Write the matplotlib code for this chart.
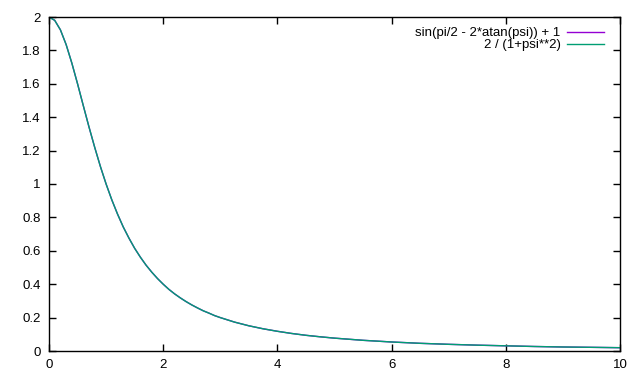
import matplotlib
matplotlib.use("Agg")
import matplotlib.pyplot as plt

psi = [0.0, 0.1, 0.2, 0.3, 0.4, 0.5, 0.6, 0.7, 0.8, 0.9, 1.0, 1.1, 1.2, 1.3, 1.4, 1.5,
       1.6, 1.7, 1.8, 1.9, 2.0, 2.1, 2.2, 2.3, 2.4, 2.5, 2.6, 2.7, 2.8, 2.9, 3.0,
       3.25, 3.5, 3.75, 4.0, 4.25, 4.5, 4.75, 5.0, 5.5, 6.0, 6.5, 7.0, 7.5, 8.0,
       8.5, 9.0, 9.5, 10.0]
series_sin = [2.0, 1.98, 1.923, 1.835, 1.724, 1.6, 1.47, 1.342, 1.22, 1.105, 1.0, 0.905,
              0.82, 0.743, 0.676, 0.615, 0.562, 0.514, 0.472, 0.434, 0.4, 0.369, 0.342,
              0.318, 0.296, 0.276, 0.258, 0.241, 0.227, 0.212, 0.2, 0.173, 0.151, 0.133,
              0.118, 0.105, 0.094, 0.085, 0.077, 0.064, 0.054, 0.046, 0.04, 0.035, 0.031,
              0.027, 0.024, 0.022, 0.0198]
series_ratio = list(series_sin)
labels = ["sin(pi/2 - 2*atan(psi)) + 1", "2 / (1+psi**2)"]
xticks = [0, 2, 4, 6, 8, 10]
yticks = [0, 0.2, 0.4, 0.6, 0.8, 1, 1.2, 1.4, 1.6, 1.8, 2]
ytick_labels = ["0", "0.2", "0.4", "0.6", "0.8", "1", "1.2", "1.4", "1.6", "1.8", "2"]

plt.rcParams['font.family'] = ['Liberation Sans', 'DejaVu Sans']
fig = plt.figure(figsize=(6.4, 3.84), dpi=100)
ax = fig.add_axes([49/640, 1 - 351/384, (620 - 49)/640, (351 - 17)/384])
ax.plot(psi, series_sin, color='#9400d3', lw=1.0, label=labels[0])
ax.plot(psi, series_ratio, color='#009e73', lw=1.0, label=labels[1])
ax.set_xlim(0, 10)
ax.set_ylim(0, 2)
ax.set_xticks(xticks)
ax.set_xticklabels([str(t) for t in xticks])
ax.set_yticks(yticks)
ax.set_yticklabels(ytick_labels)
ax.tick_params(direction='in', length=5, width=1, labelsize=9.5, top=True, right=True,
               colors='black', pad=6)
for s in ax.spines.values():
    s.set_linewidth(1)
    s.set_color('black')
leg = ax.legend(loc='upper right', frameon=False, fontsize=9.5, markerfirst=False,
                handlelength=2.8, handletextpad=0.5, borderaxespad=0, borderpad=0,
                labelspacing=0.0, bbox_to_anchor=((604 - 49)/571, (351 - 27)/334))
for t in leg.get_texts():
    t.set_ha('right')
leg._legend_box.align = 'right'
fig.savefig("out.png", dpi=100)
